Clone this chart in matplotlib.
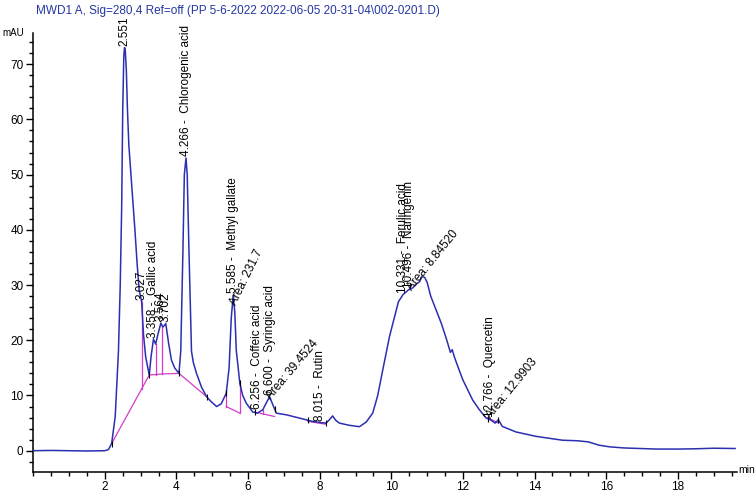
import numpy as np
import matplotlib
matplotlib.use("Agg")
import matplotlib.pyplot as plt
from matplotlib.ticker import MultipleLocator

plt.rcParams['font.family'] = ['Liberation Sans', 'DejaVu Sans']

# chromatogram trace (min, mAU)
time_min = [0.0, 0.5, 1.0, 1.5, 2.0, 2.1, 2.19, 2.29, 2.38, 2.43, 2.47, 2.5, 2.53, 2.551,
            2.57, 2.6, 2.63, 2.67, 2.74, 2.84, 2.9, 2.96, 3.027, 3.08, 3.14, 3.24, 3.29,
            3.358, 3.42, 3.48, 3.564, 3.62, 3.702, 3.78, 3.86, 3.95, 4.07, 4.12, 4.18,
            4.22, 4.266, 4.3, 4.35, 4.42, 4.47, 4.56, 4.7, 4.84, 4.95, 5.12, 5.25,
            5.39, 5.47, 5.53, 5.585, 5.63, 5.67, 5.77, 5.85, 5.95, 6.13, 6.256, 6.41,
            6.52, 6.6, 6.68, 6.79, 7.07, 7.44, 7.8, 8.015, 8.18, 8.27, 8.36, 8.45,
            8.55, 8.83, 9.11, 9.3, 9.48, 9.62, 9.76, 9.95, 10.14, 10.2, 10.331, 10.42,
            10.496, 10.6, 10.72, 10.79, 10.85, 10.93, 11.0, 11.1, 11.25, 11.4, 11.55,
            11.65, 11.7, 11.76, 11.9, 12.0, 12.27, 12.45, 12.65, 12.766, 12.9, 12.99,
            13.1, 13.48, 14.04, 14.78, 15.2, 15.5, 15.8, 16.1, 16.5, 17.4, 18.0, 18.5,
            19.0, 19.6]
signal_mau = [0.0, 0.05, 0.0, -0.05, 0.0, 0.2, 1.3, 6.2, 18.0, 30.0, 44.0, 62.0, 71.5, 73.0,
              72.5, 69.0, 62.0, 55.4, 49.0, 40.0, 34.0, 29.0, 27.0, 21.0, 17.0, 13.7, 17.0,
              20.2, 19.3, 21.0, 23.1, 22.4, 23.0, 19.5, 16.4, 15.0, 14.0, 18.0, 36.0,
              50.0, 53.0, 50.0, 36.0, 18.0, 16.0, 14.0, 11.5, 9.8, 9.0, 8.0, 8.5,
              10.4, 15.0, 24.0, 28.2, 25.0, 18.2, 12.2, 10.0, 8.6, 7.0, 6.8, 7.4,
              8.8, 9.8, 8.5, 6.8, 6.5, 5.9, 5.3, 5.1, 5.0, 5.6, 6.3, 5.5,
              5.0, 4.6, 4.35, 5.2, 6.8, 10.0, 14.6, 20.7, 25.5, 27.0, 28.3, 28.8,
              29.2, 29.5, 30.3, 30.6, 31.5, 31.4, 30.5, 28.0, 25.5, 23.0, 20.0,
              17.8, 18.3, 17.0, 14.5, 12.8, 9.2, 7.5, 5.9, 5.6, 5.0, 5.6,
              4.4, 3.4, 2.6, 1.9, 1.8, 1.6, 1.0, 0.7, 0.5, 0.3, 0.3, 0.35,
              0.45, 0.4]

# integration baselines (magenta)
base_segments = [
    ([2.19, 3.24, 3.42, 3.61, 4.07], [1.3, 13.7, 13.8, 13.9, 14.0]),
    ([4.07, 4.84], [14.0, 9.8]),
    ([5.39, 5.77], [8.0, 6.8]),
    ([6.18, 6.74], [7.0, 6.2]),
    ([7.67, 8.18], [5.3, 4.8]),
    ([12.69, 12.99], [6.0, 5.0]),
]
# vertical drop lines (time, top, bottom)
drop_lines = [(3.027, 27.0, 11.2), (3.42, 19.3, 13.8), (3.61, 22.4, 13.9),
              (5.39, 10.4, 8.0), (5.77, 12.2, 6.8), (6.41, 7.4, 6.6)]
boundary_times = [2.19, 3.24, 4.07, 4.84, 5.39, 5.77, 6.18, 6.74, 7.67, 8.18,
                  12.69, 12.99]

# peak labels (time, mAU at text start, text)
peak_times = [2.551, 3.027, 3.358, 3.564, 3.702, 4.266, 5.585, 6.256, 6.600,
              8.015, 10.331, 10.496, 12.766]
peak_heights = [73.0, 27.0, 20.2, 23.1, 23.0, 53.0, 28.2, 7.2, 9.8, 5.1, 28.3,
                29.2, 5.8]
peak_texts = ["2.551", "3.027", "3.358 -  Gallic acid", "3.564", "3.702",
              "4.266 -  Chlorogenic acid", "5.585 -  Methyl gallate",
              "6.256 -  Coffeic acid", "6.600 -  Syringic acid", "8.015 -  Rutin",
              "10.331 -  Ferulic acid", "10.496 -  Naringenin", "12.766 -  Quercetin"]

# area annotations (time, mAU, text, angle)
area_times = [5.75, 6.7, 10.65, 12.85]
area_heights = [26.0, 8.8, 28.5, 5.4]
area_texts = ["Area: 231.7", "Area: 39.4524", "Area: 8.84520", "Area: 12.9903"]
area_angles = [64, 50, 51, 51]

fig = plt.figure(figsize=(7.55, 4.96), dpi=100)
ax = fig.add_axes([0.044, 0.049, 0.932, 0.884])

for bt, bv in base_segments:
    ax.plot(bt, bv, color='#d23cc8', lw=0.9, zorder=2)
for t, top, bot in drop_lines:
    ax.plot([t, t], [top, bot], color='#d23cc8', lw=0.9, zorder=2)

ax.plot(time_min, signal_mau, color='#2b2fb0', lw=1.1, zorder=3)
ax.plot(boundary_times, np.interp(boundary_times, time_min, signal_mau), ls='none',
        marker='|', ms=5, mew=0.8, color='black', zorder=4)

for t, v, s in zip(peak_times, peak_heights, peak_texts):
    ax.text(t, v + 0.3, s, rotation=90, ha='center', va='bottom', fontsize=8.5, zorder=5)
for t, v, s, a in zip(area_times, area_heights, area_texts, area_angles):
    ax.text(t, v, s, rotation=a, ha='left', va='bottom', fontsize=8.5,
            rotation_mode='anchor', zorder=5)

ax.set_xlim(0, 19.65)
ax.set_ylim(-3.8, 75.6)
ax.xaxis.set_minor_locator(MultipleLocator(0.5))
ax.yaxis.set_major_locator(MultipleLocator(10))
ax.yaxis.set_minor_locator(MultipleLocator(2))
ax.set_xticks([2, 4, 6, 8, 10, 12, 14, 16, 18])
ax.tick_params(which='major', direction='out', length=5, width=1, labelsize=8.5, pad=2)
ax.tick_params(which='minor', direction='out', length=3, width=1)
for side in ['top', 'right']:
    ax.spines[side].set_visible(False)
for side in ['left', 'bottom']:
    ax.spines[side].set_linewidth(1.1)

fig.text(0.048, 0.978, "MWD1 A, Sig=280,4 Ref=off (PP 5-6-2022 2022-06-05 20-31-04\\002-0201.D)",
         color='#2336a3', fontsize=8.5, ha='left', va='center')
fig.text(0.003, 0.933, "mAU", fontsize=7, ha='left', va='center')
fig.text(0.978, 0.052, "min", fontsize=7.5, ha='left', va='center')

fig.savefig('out.png', dpi=100)
